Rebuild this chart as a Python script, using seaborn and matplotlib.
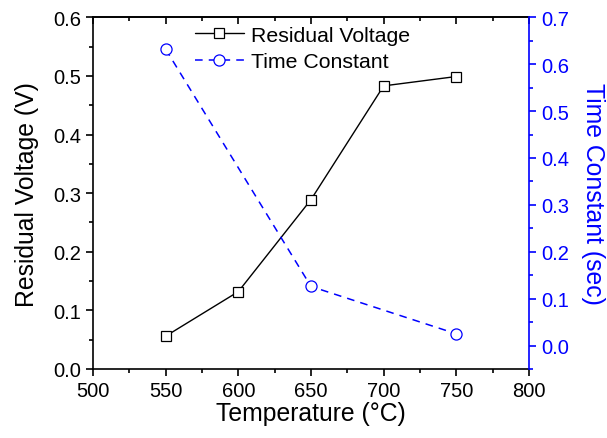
import matplotlib
matplotlib.use("Agg")
import matplotlib.pyplot as plt
import seaborn as sns
import pandas as pd

temperature = [550, 600, 650, 700, 750]
residual_voltage = [0.056, 0.132, 0.289, 0.483, 0.499]
time_constant = [0.632, 0.126, 0.025]
time_temps = [550, 650, 750]

x_ticks = [500, 550, 600, 650, 700, 750, 800]
left_ticks = [0.0, 0.1, 0.2, 0.3, 0.4, 0.5, 0.6]
right_ticks = [0.0, 0.1, 0.2, 0.3, 0.4, 0.5, 0.6, 0.7]

sns.set_style("ticks")
plt.rcParams["font.family"] = ["Liberation Sans", "DejaVu Sans"]
plt.rcParams["text.color"] = "black"
plt.rcParams["axes.labelcolor"] = "black"

fig = plt.figure(figsize=(6.07, 4.39), dpi=100)
ax = fig.add_axes([0.1532, 0.1572, 0.7183, 0.8011])

df1 = pd.DataFrame({"T": temperature, "V": residual_voltage})
df2 = pd.DataFrame({"T": time_temps, "tau": time_constant})

sns.lineplot(data=df1, x="T", y="V", ax=ax, color="black", linewidth=1.0,
             marker="s", markersize=7, markerfacecolor="white",
             markeredgecolor="black", markeredgewidth=0.9, label="Residual Voltage",
             legend=False)

ax2 = ax.twinx()
sns.lineplot(data=df2, x="T", y="tau", ax=ax2, color="blue", linewidth=1.1,
             linestyle=(0, (5, 4)), marker="o", markersize=8, markerfacecolor="white",
             markeredgecolor="blue", markeredgewidth=0.9, label="Time Constant",
             legend=False)

ax.set_xlim(500, 800)
ax.set_ylim(0, 0.6)
ax2.set_ylim(-0.05, 0.7)
ax.set_xticks(x_ticks)
ax.set_xticklabels([str(t) for t in x_ticks])
ax.set_yticks(left_ticks)
ax.set_yticklabels([f"{v:.1f}" for v in left_ticks])
ax2.set_yticks(right_ticks)
ax2.set_yticklabels([f"{v:.1f}" for v in right_ticks])

from matplotlib.ticker import MultipleLocator
ax.xaxis.set_minor_locator(MultipleLocator(25))
ax.yaxis.set_minor_locator(MultipleLocator(0.05))
ax2.yaxis.set_minor_locator(MultipleLocator(0.05))

fs_tick = 14.5
fs_label = 17.8
ax.tick_params(axis="both", which="major", direction="out", length=5, width=1.2,
               labelsize=fs_tick, colors="black")
ax.tick_params(axis="both", which="minor", direction="out", length=3, width=1.2,
               colors="black")
ax2.tick_params(axis="y", which="major", direction="out", length=5, width=1.2,
                labelsize=fs_tick, colors="blue")
ax2.tick_params(axis="y", which="minor", direction="out", length=3, width=1.2,
                colors="blue")

top = ax.secondary_xaxis("top")
top.set_xticks(x_ticks)
top.xaxis.set_minor_locator(MultipleLocator(25))
top.tick_params(axis="x", which="major", direction="in", length=5, width=1.2,
                labeltop=False, colors="black")
top.tick_params(axis="x", which="minor", direction="in", length=3, width=1.2,
                colors="black")
top.spines["top"].set_linewidth(1.2)
top.spines["top"].set_color("black")

for s in ["left", "bottom", "top"]:
    ax.spines[s].set_linewidth(1.2)
    ax.spines[s].set_color("black")
ax.spines["right"].set_visible(False)
ax2.spines["right"].set_color("blue")
ax2.spines["right"].set_linewidth(1.2)
for s in ["left", "bottom", "top"]:
    ax2.spines[s].set_visible(False)

ax.set_xlabel("Temperature (°C)", fontsize=fs_label, labelpad=1, color="black")
ax.set_ylabel("Residual Voltage (V)", fontsize=fs_label, labelpad=10, color="black")
ax2.set_ylabel("Time Constant (sec)", fontsize=fs_label, color="blue",
               rotation=270, labelpad=26)

h1, l1 = ax.get_legend_handles_labels()
h2, l2 = ax2.get_legend_handles_labels()
leg = ax2.legend(h1 + h2, l1 + l2, loc="upper left", bbox_to_anchor=(0.19, 1.03),
                 frameon=False, fontsize=15.3, handlelength=2.3, handletextpad=0.35,
                 labelspacing=0.35)
for t in leg.get_texts():
    t.set_color("black")

fig.savefig("out.png", dpi=100)
